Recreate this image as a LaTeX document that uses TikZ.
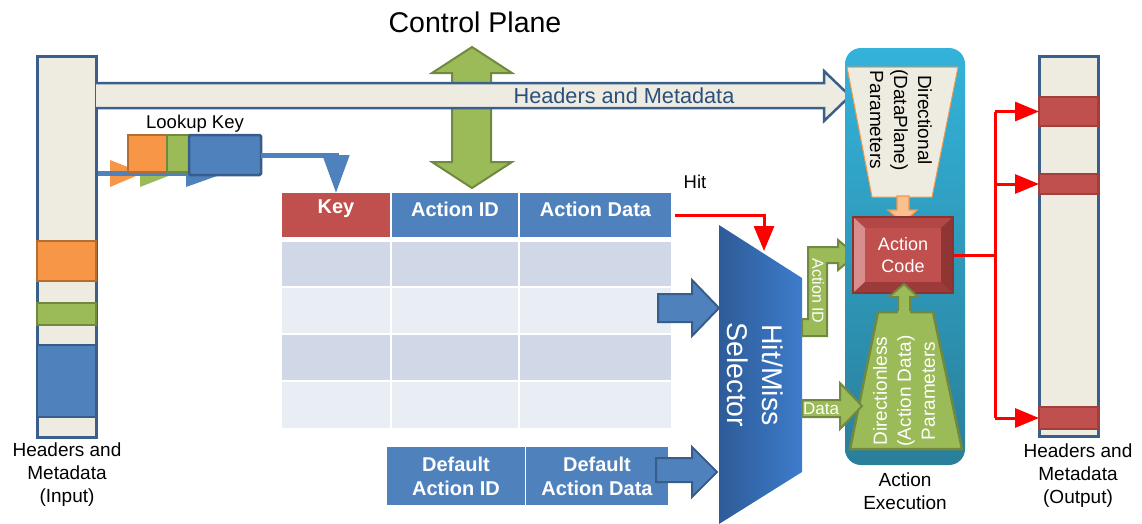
\documentclass[tikz,border=0pt]{standalone}
\usepackage{fontspec}
\setmainfont{Liberation Sans}
\usetikzlibrary{arrows.meta,calc,fit}
\definecolor{beige}{HTML}{EEECE1}
\definecolor{bordblue}{HTML}{3A5F8B}
\definecolor{oblue}{HTML}{4F81BD}
\definecolor{oblued}{HTML}{385D8A}
\definecolor{ored}{HTML}{C0504D}
\definecolor{oredd}{HTML}{8C3331}
\definecolor{oredb}{HTML}{A0403D}
\definecolor{ogreen}{HTML}{9BBB59}
\definecolor{ogreend}{HTML}{71893F}
\definecolor{oorange}{HTML}{F79646}
\definecolor{oorangd}{HTML}{B66D31}
\definecolor{olorange}{HTML}{FAC090}
\definecolor{rowa}{HTML}{D0D8E8}
\definecolor{rowb}{HTML}{E9EDF4}
\definecolor{txtblue}{HTML}{2B4F7E}
\definecolor{selL}{HTML}{2E5B98}
\definecolor{selR}{HTML}{3D7CCB}
\definecolor{panT}{HTML}{33B3DA}
\definecolor{panB}{HTML}{2A7F9B}
\definecolor{pureRed}{HTML}{FF0000}
\definecolor{bevL}{HTML}{D88E8C}
\definecolor{bevT}{HTML}{B24845}
\definecolor{bevR}{HTML}{8F3533}
\definecolor{bevB}{HTML}{9C3B39}
\tikzset{
  fitbox/.style={inner sep=0pt, outer sep=0pt},
  databar/.style={fitbox, draw=bordblue, fill=beige, line width=3pt},
  blockorange/.style={fitbox, draw=oorangd, fill=oorange, line width=2.5pt},
  blockgreen/.style={fitbox, draw=ogreend, fill=ogreen, line width=2.5pt},
  blockblue/.style={fitbox, draw=oblued, fill=oblue, line width=2.5pt},
  blockred/.style={fitbox, draw=oredb, fill=ored, line width=2.5pt},
  cell/.style={fitbox},
  hdrtext/.style={text=white, font=\bfseries\fontsize{20}{24}\selectfont, align=center},
  lbl/.style={font=\fontsize{19}{23}\selectfont, align=center},
  greenshape/.style={fill=ogreen, draw=ogreend, line width=2pt, line join=miter},
  blueshape/.style={fill=oblue, draw=oblued, line width=2pt, line join=miter},
  redline/.style={draw=pureRed, line width=3pt},
}
\begin{document}
\begin{tikzpicture}[x=1pt,y=-1pt]
\useasboundingbox (0,0) rectangle (1142,523);

% ---------- input bar ----------
\node[databar, fit={(37,56) (96,437)}] (ib) {};
\node[blockorange, fit={(37,241) (96,281)}] (ibo) {};
\node[blockgreen, fit={(37,303) (96,325)}] (ibg) {};
\node[blockblue, fit={(37,345) (96,417)}] (ibb) {};
\node[lbl] (iblbl) at (67,475) {Headers and\\Metadata\\(Input)};

% ---------- control plane ----------
\node[font=\fontsize{28.5}{32}\selectfont] (cp) at (475,22) {Control Plane};
\path[greenshape] (472,47) -- (512,73) -- (491,73) -- (491,162) -- (512,162) -- (472,188)
  -- (432,162) -- (452,162) -- (452,73) -- (432,73) -- cycle;

% ---------- headers and metadata arrow ----------
\fill[beige] (96,83) -- (824,83) -- (824,71) -- (850,96) -- (824,121) -- (824,108) -- (96,108) -- cycle;
\draw[bordblue, line width=2.5pt, line join=miter] (96,83) -- (824,83) -- (824,71) -- (850,96) -- (824,121) -- (824,108) -- (96,108);
\node[font=\fontsize{21.7}{25}\selectfont, text=txtblue] (hm) at (624,96) {Headers and Metadata};

% ---------- lookup key ----------
\node[font=\fontsize{18.5}{22}\selectfont] (lktxt) at (195,124) {Lookup Key};
\fill[oorange] (110,160) -- (143,173) -- (110,187) -- cycle;
\fill[ogreen] (140,160) -- (176,173) -- (140,187) -- cycle;
\fill[oblue] (186,160) -- (224,173.5) -- (186,187) -- cycle;
\coordinate (lkstart) at (98,173);
\coordinate (lkend) at (215,173);
\draw[oblue, line width=5pt] (lkstart) -- (lkend);
\node[fitbox, draw=oorangd, fill=oorange, line width=2pt, fit={(128,135) (167,172)}] (lko) {};
\node[fitbox, draw=ogreend, fill=ogreen, line width=2pt, fit={(167,135) (189,172)}] (lkg) {};
\node[fitbox, draw=oblued, fill=oblue, line width=2.5pt, rounded corners=1.5pt, fit={(189,135) (261,175)}] (lkb) {};

% ---------- table ----------
\node[cell, fill=ored, fit={(282,193) (390,237)}] (key) {};
\node[cell, fill=oblue, fit={(392,193) (518,237)}] (aid) {};
\node[cell, fill=oblue, fit={(520,193) (671,237)}] (adat) {};
\node[hdrtext] at ($(key.center)+(0,-6)$) {Key};
\node[hdrtext] at ($(aid.center)+(0,-6)$) {Action ID};
\node[hdrtext] at ($(adat.center)+(0,-6)$) {Action Data};
\foreach \ya/\yb/\c [count=\i] in {242/286/rowa, 288/333/rowb, 335/380/rowa, 382/428/rowb}{
  \node[cell, fill=\c, fit={(282,\ya) (390,\yb)}] (row\i a) {};
  \node[cell, fill=\c, fit={(392,\ya) (518,\yb)}] (row\i b) {};
  \node[cell, fill=\c, fit={(520,\ya) (671,\yb)}] (row\i c) {};
}
\draw[oblue, line width=5pt, -{Triangle[length=38pt,width=26pt]}] (lkb.east) -| (key.north);

% ---------- defaults ----------
\node[cell, fill=oblue, fit={(387,447) (525,505)}] (da1) {};
\node[cell, fill=oblue, fit={(526,447) (668,505)}] (da2) {};
\node[hdrtext] at (da1.center) {Default\\Action ID};
\node[hdrtext] at (da2.center) {Default\\Action Data};

% ---------- blue arrows into selector ----------
\path[blueshape] (658,294) -- (692,294) -- (692,280) -- (719,308) -- (692,336) -- (692,322) -- (658,322) -- cycle;
\path[blueshape] (656,458) -- (692,458) -- (692,447) -- (717,472) -- (692,497) -- (692,482) -- (656,482) -- cycle;

% ---------- selector ----------
\shade[left color=selL, right color=selR] (719,225) -- (802,278) -- (802,472) -- (719,524) -- cycle;
\node[rotate=-90, text=white, font=\fontsize{28.5}{35}\selectfont, align=center] (selt) at (755,375) {Hit/Miss\\Selector};
\coordinate (hitend) at (764,251);
\node[font=\fontsize{18.5}{22}\selectfont] (hit) at (695,182) {Hit};
\draw[redline, -{Triangle[length=25pt,width=20pt]}] ($(adat.east)+(4,0)$) -| (hitend);

% ---------- green arrows from selector ----------
\path[greenshape] (802,319) -- (808,319) -- (808,247) -- (838,247) -- (838,240) -- (856,255) -- (838,270)
  -- (838,263) -- (827,263) -- (827,336) -- (802,336) -- cycle;
\node[rotate=-90, text=white, font=\fontsize{16}{18}\selectfont] (aidt) at (818,291) {Action ID};

% ---------- action execution panel ----------
\node[fitbox, rounded corners=16pt, top color=panT, bottom color=panB, fit={(845,48) (965,465)}] (panel) {};
\path[fill=beige, draw=oorange, line width=1pt] (847,67) -- (958,67) -- (932,197) -- (872,197) -- cycle;
\node[rotate=-90, font=\fontsize{19}{24}\selectfont, align=center] (dirt) at (901,120) {Directional\\(DataPlane)\\Parameters};
\path[fill=olorange, draw=oorange, line width=1.2pt, line join=miter] (897,196) -- (909,196) -- (909,210) -- (917,210)
  -- (903,223) -- (888,210) -- (897,210) -- cycle;

% action code (bevelled)
\node[fitbox, fill=ored, fit={(853,217) (953,293)}] (ac) {};
\fill[bevT] (853,217) -- (953,217) -- (941,228) -- (865,228) -- cycle;
\fill[bevL] (853,217) -- (865,228) -- (865,282) -- (853,293) -- cycle;
\fill[bevB] (853,293) -- (865,282) -- (941,282) -- (953,293) -- cycle;
\fill[bevR] (953,217) -- (941,228) -- (941,282) -- (953,293) -- cycle;
\fill[ored] (865,228) rectangle (941,282);
\draw[oredd, line width=1.5pt] (853,217) rectangle (953,293);
\node[text=white, font=\fontsize{18}{22}\selectfont, align=center] (act) at (903,255) {Action\\Code};

% directionless
\path[greenshape, line width=2.5pt] (878,312) -- (933,312) -- (962,449) -- (850,449) -- cycle;
\fill[ogreen] (898,316) -- (898,297) -- (889,297) -- (904,284) -- (918,297) -- (910,297) -- (910,316) -- cycle;
\draw[ogreend, line width=2pt, line join=miter] (898,311) -- (898,297) -- (889,297) -- (904,284) -- (918,297) -- (910,297) -- (910,311);
\node[rotate=90, text=white, font=\fontsize{19}{24}\selectfont, align=center] (dlt) at (904,391) {Directionless\\(Action Data)\\Parameters};

% data arrow
\path[greenshape] (802,400) -- (840,400) -- (840,383) -- (862,406) -- (840,429) -- (840,417) -- (802,417) -- cycle;
\node[text=white, font=\fontsize{17}{20}\selectfont] (datat) at (821,409) {Data};

\node[lbl] (aelbl) at (905,491) {Action\\Execution};

% ---------- output bar ----------
\node[databar, fit={(1039,56) (1098,436)}] (ob) {};
\node[blockred, fit={(1039,97) (1098,126)}] (r1) {};
\node[blockred, fit={(1039,174) (1098,194)}] (r2) {};
\node[blockred, fit={(1039,407) (1098,429)}] (r3) {};
\node[lbl] (oblbl) at (1078,476) {Headers and\\Metadata\\(Output)};

% ---------- red connectors ----------
\coordinate (bus) at (995,0);
\draw[redline] (ac.east) -- (ac.east -| bus);
\draw[redline] (bus |- r1.west) -- (bus |- r3.west);
\foreach \r in {r1,r2,r3}
  \draw[redline, -{Triangle[length=24pt,width=19pt]}] (bus |- \r.west) -- (\r.west);
\end{tikzpicture}
\end{document}
